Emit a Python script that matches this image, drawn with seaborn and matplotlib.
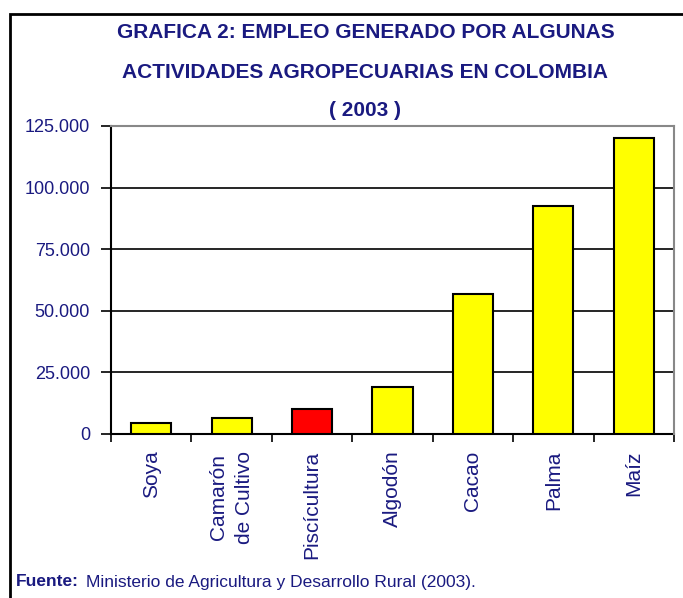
import matplotlib
matplotlib.use("Agg")
import matplotlib.pyplot as plt
import seaborn as sns
import pandas as pd
from matplotlib.patches import Rectangle
from matplotlib.ticker import FuncFormatter, FixedLocator

# datos
actividades = ["Soya", "Camarón\nde Cultivo", "Piscícultura", "Algodón", "Cacao", "Palma", "Maíz"]
empleo = [4500, 6500, 10000, 19000, 57000, 92500, 120000]
colores = ["#ffff00", "#ffff00", "#ff0000", "#ffff00", "#ffff00", "#ffff00", "#ffff00"]
y_ticks = [0, 25000, 50000, 75000, 100000]

sns.set_theme(style="white")
plt.rcParams['font.family'] = ['Liberation Sans Narrow', 'Liberation Sans', 'DejaVu Sans']

azul = "#1a1a80"
df = pd.DataFrame({"actividad": actividades, "empleo": empleo})

fig = plt.figure(figsize=(6.83, 5.98), dpi=100)
ax = fig.add_axes([111 / 683, 1 - 434 / 598, (674 - 111) / 683, (434 - 126) / 598])

sns.barplot(data=df, x="actividad", y="empleo", hue="actividad", palette=colores, saturation=1,
            legend=False, width=0.5, edgecolor="black", linewidth=1.5, ax=ax, zorder=3)

ax.set_ylim(0, 125000)
ax.set_xlim(-0.5, len(actividades) - 0.5)
ax.yaxis.set_major_locator(FixedLocator(y_ticks + [125000]))
ax.yaxis.set_major_formatter(FuncFormatter(lambda v, p: f"{int(v):,}".replace(",", ".")))
ax.grid(axis="y", color="black", linewidth=1.2, zorder=0)
ax.grid(axis="x", visible=False)
for s in ["left", "bottom"]:
    ax.spines[s].set_color("black")
    ax.spines[s].set_linewidth(1.5)
for s in ["top", "right"]:
    ax.spines[s].set_color("#888888")
    ax.spines[s].set_linewidth(1.5)
    ax.spines[s].set_zorder(5)

ax.tick_params(axis="y", direction="out", length=7, width=1.2, colors="black",
               labelcolor=azul, labelsize=13, left=True, pad=8)
ax.set_yticklabels(ax.get_yticklabels(), family=['Liberation Sans', 'DejaVu Sans'])
# marcas del eje x entre categorias
ax.set_xticks([i - 0.5 for i in range(len(actividades) + 1)], minor=True)
ax.tick_params(axis="x", which="minor", direction="out", length=6, width=1.2, color="black", bottom=True)
ax.tick_params(axis="x", which="major", length=0, labelcolor=azul, labelsize=15, pad=12)
ax.set_xticks(range(len(actividades)))
ax.set_xticklabels(actividades, rotation=90, va="top", ha="center", linespacing=1.5)
ax.set_xlabel("")
ax.set_ylabel("")

fig.text(0.535, 1 - 32 / 598, "GRAFICA 2: EMPLEO GENERADO POR ALGUNAS", ha="center", va="center",
         fontsize=15, fontweight="bold", color=azul)
fig.text(0.535, 1 - 72 / 598, "ACTIVIDADES AGROPECUARIAS EN COLOMBIA", ha="center", va="center",
         fontsize=15, fontweight="bold", color=azul)
fig.text(0.535, 1 - 110 / 598, "( 2003 )", ha="center", va="center",
         fontsize=15, fontweight="bold", color=azul)

fig.text(16 / 683, 1 - 582 / 598, "Fuente:", ha="left", va="center", fontsize=12.5,
         fontweight="bold", color=azul, family=['Liberation Sans', 'DejaVu Sans'])
fig.text(86 / 683, 1 - 582 / 598, "Ministerio de Agricultura y Desarrollo Rural (2003).", ha="left",
         va="center", fontsize=12.5, color=azul, family=['Liberation Sans', 'DejaVu Sans'])

# marco exterior
fig.patches.append(Rectangle((10 / 683, -0.05), 1.0, 1 - 14 / 598 + 0.05, transform=fig.transFigure,
                             fill=False, edgecolor="black", linewidth=2))

fig.savefig("out.png", dpi=100)
